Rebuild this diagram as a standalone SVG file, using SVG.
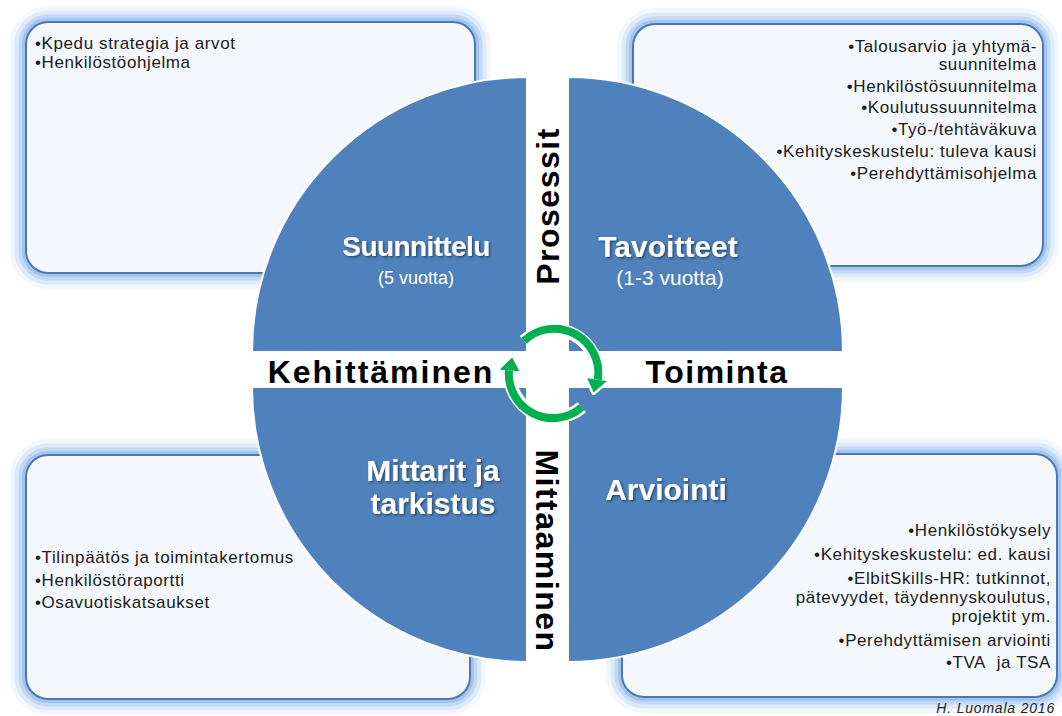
<svg xmlns="http://www.w3.org/2000/svg" width="1062" height="716" viewBox="0 0 1062 716">
<defs>
<filter id="shadow" x="-10%" y="-30%" width="120%" height="160%"><feDropShadow dx="1.5" dy="1.5" stdDeviation="1" flood-color="#000" flood-opacity="0.45"/></filter>
</defs>
<style>
.g1{fill:none;stroke:#a9c9f2;stroke-width:32;stroke-opacity:0.15}
.g2{fill:none;stroke:#9fc3f0;stroke-width:23;stroke-opacity:0.25}
.g3{fill:none;stroke:#94bcee;stroke-width:15;stroke-opacity:0.38}
.g4{fill:none;stroke:#88b3ea;stroke-width:8;stroke-opacity:0.55}
.box{fill:#f4f7fc;stroke:#4c78b2;stroke-width:2}
.t{font-family:"Liberation Sans",Arial,sans-serif;font-size:17px;letter-spacing:0.6px;fill:#1a1a1a}
.r{text-anchor:end}
.quad{fill:#4f81bd;stroke:#fff;stroke-width:2}
.title{font-family:"Liberation Sans",Arial,sans-serif;font-weight:bold;font-size:30px;fill:#fff;text-anchor:middle}
.sub{font-family:"Liberation Sans",Arial,sans-serif;fill:#fff;text-anchor:middle;font-size:21px}
.lbl{font-family:"Liberation Sans",Arial,sans-serif;font-weight:bold;fill:#000;font-size:32px;letter-spacing:1.5px;text-anchor:middle}
.ring-w{fill:none;stroke:#fff;stroke-width:13}
.ring-g{fill:none;stroke:#00b050;stroke-width:8}
.head-w{fill:#fff;stroke:#fff;stroke-width:5;stroke-linejoin:round}
.head-g{fill:#00b050}
.credit{font-family:"Liberation Sans",Arial,sans-serif;font-style:italic;font-size:14px;letter-spacing:0.8px;fill:#222;text-anchor:end}
</style>

<g id="box-tl">
<rect class="g1" x="26" y="22" width="449" height="251" rx="22"/>
<rect class="g2" x="26" y="22" width="449" height="251" rx="22"/>
<rect class="g3" x="26" y="22" width="449" height="251" rx="22"/>
<rect class="g4" x="26" y="22" width="449" height="251" rx="22"/>
<rect class="box" x="26" y="22" width="449" height="251" rx="22"/>
<text class="t" x="35" y="49">•Kpedu strategia ja arvot</text>
<text class="t" x="35" y="68">•Henkilöstöohjelma</text>
</g>

<g id="box-tr">
<rect class="g1" x="633" y="24" width="410" height="242" rx="22"/>
<rect class="g2" x="633" y="24" width="410" height="242" rx="22"/>
<rect class="g3" x="633" y="24" width="410" height="242" rx="22"/>
<rect class="g4" x="633" y="24" width="410" height="242" rx="22"/>
<rect class="box" x="633" y="24" width="410" height="242" rx="22"/>
<text class="t r" x="1037" y="52">•Talousarvio ja yhtymä-</text>
<text class="t r" x="1037" y="70">suunnitelma</text>
<text class="t r" x="1037" y="92">•Henkilöstösuunnitelma</text>
<text class="t r" x="1037" y="113">•Koulutussuunnitelma</text>
<text class="t r" x="1037" y="135">•Työ-/tehtäväkuva</text>
<text class="t r" x="1037" y="157">•Kehityskeskustelu: tuleva kausi</text>
<text class="t r" x="1037" y="179">•Perehdyttämisohjelma</text>
</g>

<g id="box-bl">
<rect class="g1" x="26" y="455" width="444" height="244" rx="22"/>
<rect class="g2" x="26" y="455" width="444" height="244" rx="22"/>
<rect class="g3" x="26" y="455" width="444" height="244" rx="22"/>
<rect class="g4" x="26" y="455" width="444" height="244" rx="22"/>
<rect class="box" x="26" y="455" width="444" height="244" rx="22"/>
<text class="t" x="35" y="563">•Tilinpäätös ja toimintakertomus</text>
<text class="t" x="35" y="586">•Henkilöstöraportti</text>
<text class="t" x="35" y="608">•Osavuotiskatsaukset</text>
</g>

<g id="box-br">
<rect class="g1" x="622" y="454" width="435" height="243" rx="22"/>
<rect class="g2" x="622" y="454" width="435" height="243" rx="22"/>
<rect class="g3" x="622" y="454" width="435" height="243" rx="22"/>
<rect class="g4" x="622" y="454" width="435" height="243" rx="22"/>
<rect class="box" x="622" y="454" width="435" height="243" rx="22"/>
<text class="t r" x="1051" y="536">•Henkilöstökysely</text>
<text class="t r" x="1051" y="560">•Kehityskeskustelu: ed. kausi</text>
<text class="t r" x="1051" y="584">•ElbitSkills-HR: tutkinnot,</text>
<text class="t r" x="1051" y="603">pätevyydet, täydennyskoulutus,</text>
<text class="t r" x="1051" y="622">projektit ym.</text>
<text class="t r" x="1051" y="646">•Perehdyttämisen arviointi</text>
<text class="t r" x="1051" y="668">•TVA&#160; ja TSA</text>
</g>

<g id="quad-suunnittelu">
<path class="quad" d="M527,352 L252,352 A275,275 0 0 1 527,77 Z"/>
<text class="title" filter="url(#shadow)" x="416" y="256" style="font-size:28px;letter-spacing:-0.6px">Suunnittelu</text>
<text class="sub" x="416" y="284" style="font-size:18px">(5 vuotta)</text>
</g>

<g id="quad-tavoitteet">
<path class="quad" d="M568,352 L568,77 A275,275 0 0 1 843,352 Z"/>
<text class="title" filter="url(#shadow)" x="668" y="257">Tavoitteet</text>
<text class="sub" x="670" y="285">(1-3 vuotta)</text>
</g>

<g id="quad-arviointi">
<path class="quad" d="M568,387 L843,387 A275,275 0 0 1 568,662 Z"/>
<text class="title" filter="url(#shadow)" x="666" y="500">Arviointi</text>
</g>

<g id="quad-mittarit">
<path class="quad" d="M527,387 L527,662 A275,275 0 0 1 252,387 Z"/>
<text class="title" filter="url(#shadow)" x="433" y="481">Mittarit ja</text>
<text class="title" filter="url(#shadow)" x="433" y="514">tarkistus</text>
</g>

<g id="label-prosessit">
<text class="lbl" transform="translate(559,206) rotate(-90)">Prosessit</text>
</g>
<g id="label-mittaaminen">
<text class="lbl" transform="translate(536,551) rotate(90)">Mittaaminen</text>
</g>
<g id="label-kehittaminen">
<text class="lbl" x="381" y="383" style="letter-spacing:2px">Kehittäminen</text>
</g>
<g id="label-toiminta">
<text class="lbl" x="717" y="383">Toiminta</text>
</g>

<g id="connectors">
<path class="ring-w" d="M524.1,340.8 A44,44 0 0 1 597.1,379.6"/>
<polygon class="head-w" points="607.0,381.0 587.2,378.3 593.7,392.4"/>
<path class="ring-w" d="M581.8,407.2 A44,44 0 0 1 509.6,370.4"/>
<polygon class="head-w" points="499.6,369.7 519.6,371.2 512.1,357.5"/>
<path class="ring-g" d="M524.1,340.8 A44,44 0 0 1 597.8,379.7"/>
<polygon class="head-g" points="607.0,381.0 587.2,378.3 593.7,392.4"/>
<path class="ring-g" d="M581.8,407.2 A44,44 0 0 1 509.0,370.3"/>
<polygon class="head-g" points="499.6,369.7 519.6,371.2 512.1,357.5"/>
</g>

<g id="credit">
<text class="credit" x="1055" y="713">H. Luomala 2016</text>
</g>
</svg>
